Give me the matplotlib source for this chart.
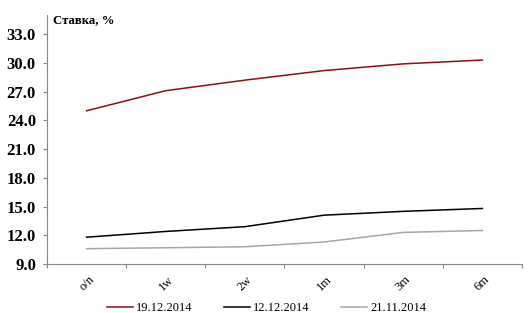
import matplotlib
matplotlib.use("Agg")
import matplotlib.pyplot as plt
import numpy as np

categories = ["o/n", "1w", "2w", "1m", "3m", "6m"]
s_19dec = [25.0, 27.1, 28.2, 29.2, 29.9, 30.3]
s_12dec = [11.8, 12.4, 12.9, 14.1, 14.5, 14.8]
s_21nov = [10.6, 10.7, 10.8, 11.3, 12.3, 12.5]
labels = ["19.12.2014", "12.12.2014", "21.11.2014"]
yticks = [9.0, 12.0, 15.0, 18.0, 21.0, 24.0, 27.0, 30.0, 33.0]

plt.rcParams['font.family'] = ['Liberation Serif', 'DejaVu Serif']

fig = plt.figure(figsize=(5.28, 3.13), dpi=100)
ax = fig.add_axes([0.089, 0.1565, 0.8996, 0.7955])

x = np.arange(len(categories))
ax.plot(x, s_19dec, color="#8B0F14", lw=1.1, label=labels[0])
ax.plot(x, s_12dec, color="#000000", lw=1.1, label=labels[1])
ax.plot(x, s_21nov, color="#A6A6A6", lw=1.1, label=labels[2])

ax.set_xlim(-0.5, len(categories) - 0.5)
ax.set_ylim(9.0, 35.0)
ax.set_yticks(yticks)
ax.set_yticklabels([f"{v:.1f}" for v in yticks], fontsize=12, fontweight="bold")

ax.set_xticks(np.arange(-0.5, len(categories) + 0.5, 1.0))
ax.set_xticklabels([])
ax.set_xticks(x, minor=True)
ax.set_xticklabels(categories, minor=True, rotation=45, fontsize=9, ha="center", va="top")
ax.tick_params(axis="x", which="minor", length=0, pad=7)
ax.tick_params(axis="x", which="major", length=3, color="#888888", direction="out")
ax.tick_params(axis="y", length=3, color="#888888", direction="out", pad=5)

for s in ["top", "right"]:
    ax.spines[s].set_visible(False)
for s in ["left", "bottom"]:
    ax.spines[s].set_color("#888888")
    ax.spines[s].set_linewidth(0.8)

fig.text(0.1, 0.937, "Ставка, %", fontsize=9.2, fontweight="bold", ha="left", va="center")

fig.legend(loc="lower center", bbox_to_anchor=(0.505, -0.04), ncol=3, frameon=False,
           fontsize=9, handlelength=2.1, handletextpad=0.25, columnspacing=2.5)

fig.savefig("out.png", dpi=100)
